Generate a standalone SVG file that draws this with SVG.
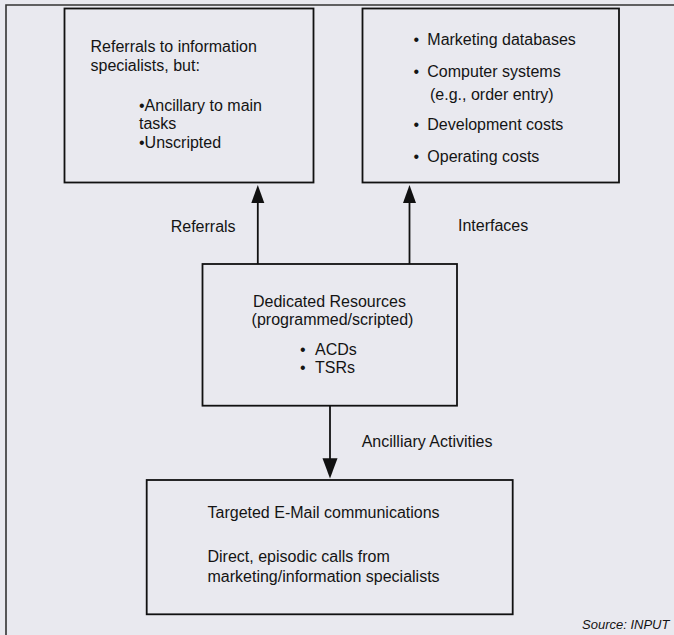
<svg xmlns="http://www.w3.org/2000/svg" width="674" height="635" viewBox="0 0 674 635">
<style>
text{font-family:"Liberation Sans",Arial,sans-serif;font-size:16px;fill:#141414}
.box{fill:#e9e9ef;stroke:#111;stroke-width:1.8}
.ln{stroke:#111;stroke-width:1.8;fill:none}
.src{font-size:13px;font-style:italic}
</style>
<rect width="674" height="635" fill="#e9e9ef"/>
<path d="M6 635 V5 H674" stroke="#333" stroke-width="1.6" fill="none"/>
<g id="referrals-box">
<rect class="box" x="64.5" y="8.5" width="249" height="174"/>
<text x="90.5" y="52.3">Referrals to information</text>
<text x="90.5" y="70.8">specialists, but:</text>
<text x="139" y="110.5">•Ancillary to main</text>
<text x="139" y="128.5">tasks</text>
<text x="139" y="147.5">•Unscripted</text>
</g>
<g id="interfaces-box">
<rect class="box" x="362.5" y="8.5" width="256.5" height="174"/>
<text x="413.5" y="45">•</text><text x="427.3" y="45">Marketing databases</text>
<text x="413.5" y="77.3">•</text><text x="427.3" y="77.3">Computer systems</text>
<text x="430" y="99.5">(e.g., order entry)</text>
<text x="413.5" y="130">•</text><text x="427.3" y="130">Development costs</text>
<text x="413.5" y="161.5">•</text><text x="427.3" y="161.5">Operating costs</text>
</g>
<g id="dedicated-box">
<rect class="box" x="202.5" y="264" width="254.5" height="141.7"/>
<text x="329.5" y="307.3" text-anchor="middle">Dedicated Resources</text>
<text x="332.5" y="324.5" text-anchor="middle">(programmed/scripted)</text>
<text x="300" y="355">•</text><text x="315" y="355">ACDs</text>
<text x="300" y="373.3">•</text><text x="315" y="373.3">TSRs</text>
</g>
<g id="email-box">
<rect class="box" x="146.7" y="480" width="366" height="134.3"/>
<text x="207.5" y="518.3">Targeted E-Mail communications</text>
<text x="207.5" y="561.5">Direct, episodic calls from</text>
<text x="207.5" y="581.7">marketing/information specialists</text>
</g>
<g id="connectors">
<line class="ln" x1="257.8" y1="264" x2="257.8" y2="195"/>
<polygon points="257.8,185 251.3,203 264.3,203" fill="#111"/>
<line class="ln" x1="409.5" y1="264" x2="409.5" y2="195"/>
<polygon points="409.5,185 403,203 416,203" fill="#111"/>
<line class="ln" x1="330" y1="405.7" x2="330" y2="465"/>
<polygon points="330,478.5 322.5,458.3 337.5,458.3" fill="#111"/>
<text x="170.7" y="231.7">Referrals</text>
<text x="458" y="231.2">Interfaces</text>
<text x="361.7" y="446.7">Ancilliary Activities</text>
</g>
<text class="src" x="582" y="629">Source:  INPUT</text>
</svg>
